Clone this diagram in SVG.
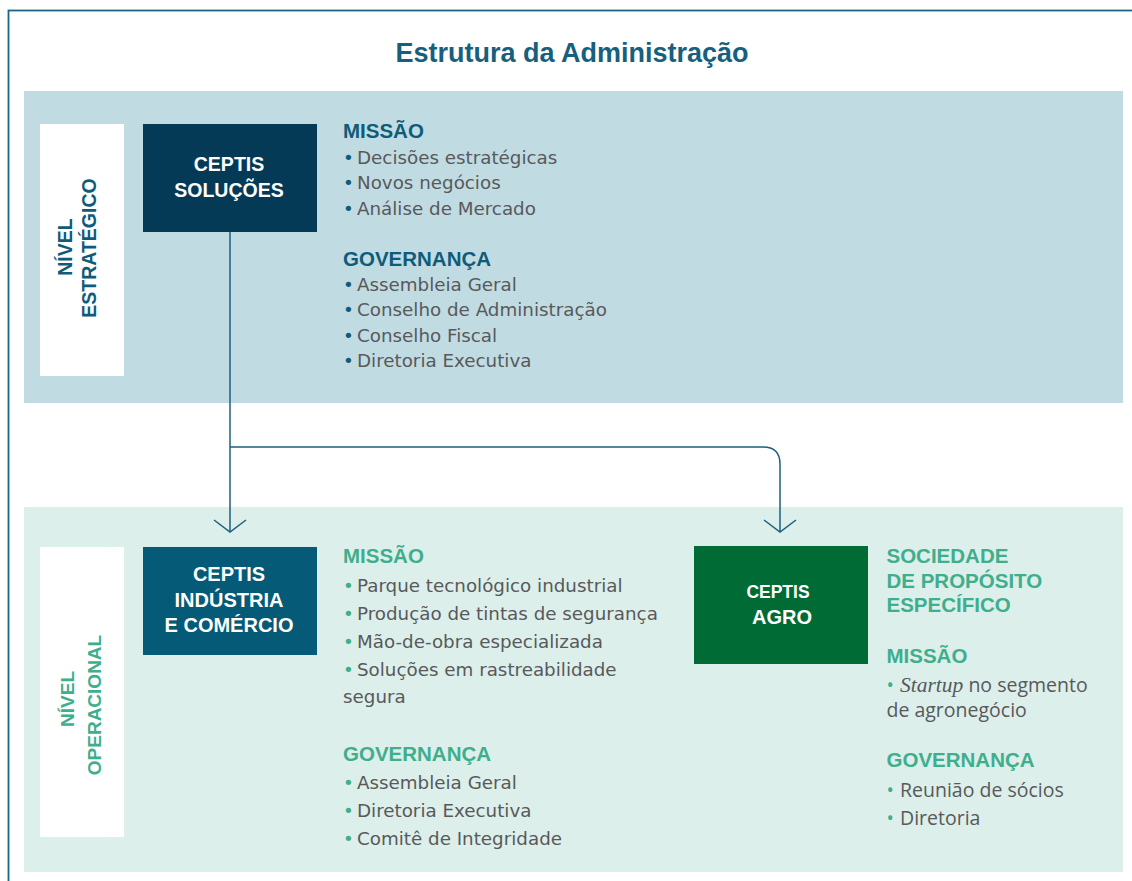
<svg xmlns="http://www.w3.org/2000/svg" width="1132" height="881" viewBox="0 0 1132 881">
<defs>
<style>
.h{font-family:"Liberation Sans",Arial,sans-serif;font-weight:bold;font-size:20.5px}
.ht{fill:#0f5b7a}
.hg{fill:#3fae8d}
.t{font-family:"DejaVu Sans",sans-serif;font-size:18.3px;fill:#58595b}
.ta{font-family:"Open Sans",sans-serif;font-size:19.5px;fill:#58595b}
.bt{fill:#0f5b7a}
.bg{fill:#3fae8d}
.box{font-family:"Liberation Sans",Arial,sans-serif;font-weight:bold;fill:#ffffff;text-anchor:middle}
.lv{font-family:"Liberation Sans",Arial,sans-serif;font-weight:bold;text-anchor:middle}
.conn{fill:none;stroke:#1d5f7c;stroke-width:1.5}
</style>
<marker id="arr" viewBox="-14 -18 16 36" refX="0" refY="0" markerWidth="16" markerHeight="36" markerUnits="userSpaceOnUse" orient="auto">
<path d="M-12,-16 L0,0 L-12,16" fill="none" stroke="#1d5f7c" stroke-width="1.5"/>
</marker>
</defs>
<rect x="0" y="0" width="1132" height="881" fill="#ffffff"/>
<rect x="8.5" y="10.5" width="1200" height="1000" fill="none" stroke="#1a6583" stroke-width="1.8"/>
<text x="572" y="62" text-anchor="middle" font-family="Liberation Sans, Arial, sans-serif" font-weight="bold" font-size="27" fill="#16607e">Estrutura da Administração</text>

<g id="band-estrategico">
<rect x="24" y="91" width="1099" height="312" fill="#c0dbe1"/>
</g>
<g id="band-operacional">
<rect x="24" y="507" width="1099" height="365" fill="#dcefea"/>
</g>

<g id="label-estrategico">
<rect x="40" y="124" width="84" height="252" fill="#ffffff"/>
<text class="lv" font-size="19.5" fill="#0f5b7a" transform="translate(72,247) rotate(-90)">NÍVEL</text>
<text class="lv" font-size="19.5" fill="#0f5b7a" transform="translate(96,248) rotate(-90)">ESTRATÉGICO</text>
</g>

<g id="label-operacional">
<rect x="40" y="547" width="84" height="290" fill="#ffffff"/>
<text class="lv" font-size="19" fill="#3fae8d" transform="translate(74,699) rotate(-90)">NÍVEL</text>
<text class="lv" font-size="19" fill="#3fae8d" transform="translate(101,705) rotate(-90)">OPERACIONAL</text>
</g>

<g id="connectors">
<path class="conn" d="M230,232 V532" marker-end="url(#arr)"/>
<path class="conn" d="M230,447 H763 Q780,447 780,464 V532" marker-end="url(#arr)"/>
</g>

<g id="ceptis-solucoes">
<rect x="143" y="124" width="174" height="108" fill="#053a57"/>
<text class="box" font-size="19.5" x="229" y="171">CEPTIS</text>
<text class="box" font-size="19.5" x="229" y="197">SOLUÇÕES</text>
</g>

<g id="estrategico-texto">
<text class="h ht" x="343" y="138">MISSÃO</text>
<text class="t" y="164"><tspan class="bt" x="343">•</tspan><tspan x="357">Decisões estratégicas</tspan></text>
<text class="t" y="189"><tspan class="bt" x="343">•</tspan><tspan x="357">Novos negócios</tspan></text>
<text class="t" y="214.5"><tspan class="bt" x="343">•</tspan><tspan x="357">Análise de Mercado</tspan></text>
<text class="h ht" x="343" y="266">GOVERNANÇA</text>
<text class="t" y="290.5"><tspan class="bt" x="343">•</tspan><tspan x="357">Assembleia Geral</tspan></text>
<text class="t" y="316"><tspan class="bt" x="343">•</tspan><tspan x="357">Conselho de Administração</tspan></text>
<text class="t" y="341.5"><tspan class="bt" x="343">•</tspan><tspan x="357">Conselho Fiscal</tspan></text>
<text class="t" y="367"><tspan class="bt" x="343">•</tspan><tspan x="357">Diretoria Executiva</tspan></text>
</g>

<g id="ceptis-industria">
<rect x="143" y="547" width="174" height="108" fill="#045a77"/>
<text class="box" font-size="20" x="229" y="581">CEPTIS</text>
<text class="box" font-size="20" x="229" y="607">INDÚSTRIA</text>
<text class="box" font-size="20" x="229" y="632">E COMÉRCIO</text>
</g>

<g id="industria-texto">
<text class="h hg" x="343" y="563">MISSÃO</text>
<text class="t" y="592"><tspan class="bg" x="343">•</tspan><tspan x="357">Parque tecnológico industrial</tspan></text>
<text class="t" y="620"><tspan class="bg" x="343">•</tspan><tspan x="357">Produção de tintas de segurança</tspan></text>
<text class="t" y="648"><tspan class="bg" x="343">•</tspan><tspan x="357">Mão-de-obra especializada</tspan></text>
<text class="t" y="676"><tspan class="bg" x="343">•</tspan><tspan x="357">Soluções em rastreabilidade</tspan></text>
<text class="t" x="343" y="703">segura</text>
<text class="h hg" x="343" y="761">GOVERNANÇA</text>
<text class="t" y="789"><tspan class="bg" x="343">•</tspan><tspan x="357">Assembleia Geral</tspan></text>
<text class="t" y="817"><tspan class="bg" x="343">•</tspan><tspan x="357">Diretoria Executiva</tspan></text>
<text class="t" y="845"><tspan class="bg" x="343">•</tspan><tspan x="357">Comitê de Integridade</tspan></text>
</g>

<g id="ceptis-agro">
<rect x="694" y="546" width="174" height="118" fill="#006b35"/>
<text class="box" font-size="17.5" x="778" y="598">CEPTIS</text>
<text class="box" font-size="20" x="782" y="624">AGRO</text>
</g>

<g id="agro-texto">
<text class="h hg" x="886.5" y="563">SOCIEDADE</text>
<text class="h hg" x="886.5" y="587.5">DE PROPÓSITO</text>
<text class="h hg" x="886.5" y="612">ESPECÍFICO</text>
<text class="h hg" x="886.5" y="663">MISSÃO</text>
<text class="ta" y="692"><tspan class="bg" x="886.5">•</tspan><tspan x="900" font-family="Liberation Serif, serif" font-style="italic" font-size="21.5">Startup</tspan><tspan> no segmento</tspan></text>
<text class="ta" x="886.5" y="717">de agronegócio</text>
<text class="h hg" x="886.5" y="767">GOVERNANÇA</text>
<text class="ta" y="797"><tspan class="bg" x="886.5">•</tspan><tspan x="900">Reunião de sócios</tspan></text>
<text class="ta" y="824.5"><tspan class="bg" x="886.5">•</tspan><tspan x="900">Diretoria</tspan></text>
</g>
</svg>
